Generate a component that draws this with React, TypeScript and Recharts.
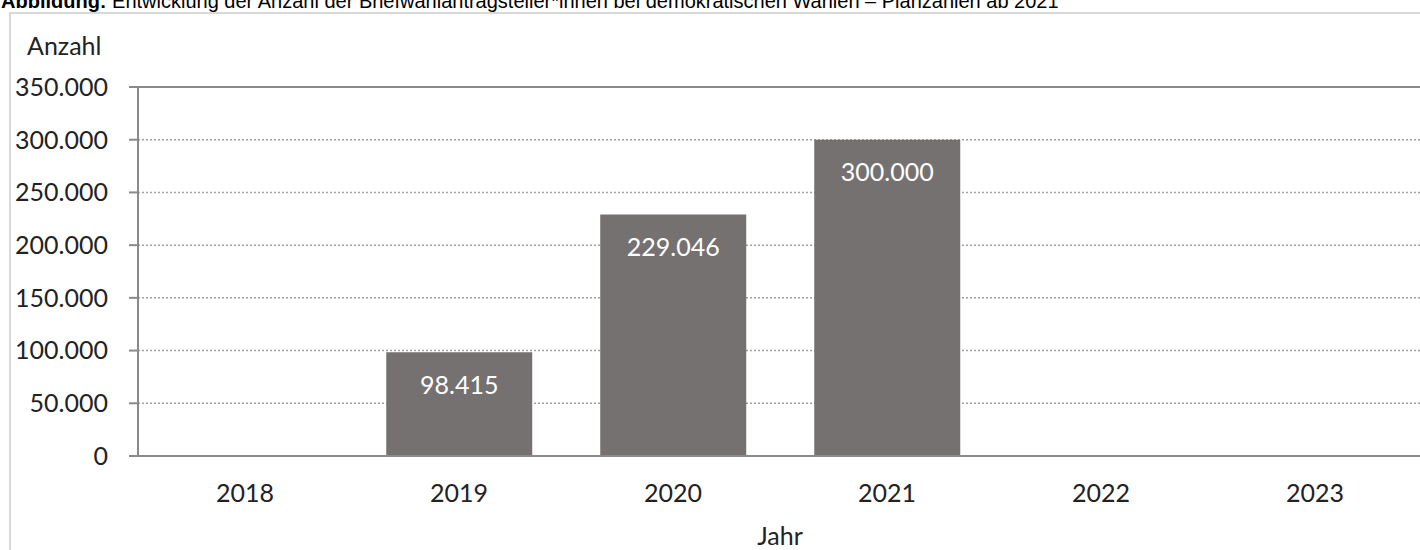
import { BarChart, Bar, XAxis, YAxis, CartesianGrid, ReferenceLine, LabelList } from 'recharts'

const years = ['2018', '2019', '2020', '2021', '2022', '2023']
const antragsteller: (number | null)[] = [null, 98415, 229046, 300000, null, null]
const yTicks = [0, 50000, 100000, 150000, 200000, 250000, 300000, 350000]

const title = 'Entwicklung der Anzahl der Briefwahlantragsteller*innen bei demokratischen Wahlen – Planzahlen ab 2021'

const data = years.map((year, i) => ({ year, value: antragsteller[i] }))

const fmt = (v: any) => (v == null ? '' : String(v).replace(/\B(?=(\d{3})+(?!\d))/g, '.'))

const font = 'Lato, "Open Sans", sans-serif'
const axisColor = '#8a8a8a'

export default function App() {
  return (
    // fixed so the slightly oversized plot never triggers scrollbars
    <div style={{ position: 'fixed', left: 0, top: 0, width: 1420, height: 550, overflow: 'hidden', background: '#fff' }}>
      <BarChart
        width={1422}
        height={550}
        data={data}
        margin={{ top: 87, right: 0, left: 0, bottom: 0 }}
        barCategoryGap="16%"
      >
        <CartesianGrid vertical={false} stroke="#a0a0a0" strokeWidth={1.5} strokeDasharray="2 2" />
        <XAxis
          dataKey="year"
          height={94}
          tickLine={false}
          tickSize={0}
          tickMargin={28}
          axisLine={{ stroke: axisColor, strokeWidth: 2 }}
          tick={{ fill: '#222', fontSize: 25, fontFamily: font }}
        />
        <YAxis
          width={138}
          domain={[0, 350000]}
          ticks={yTicks}
          tickFormatter={fmt}
          tickSize={9}
          tickMargin={21}
          axisLine={{ stroke: axisColor, strokeWidth: 2 }}
          tickLine={{ stroke: axisColor, strokeWidth: 2 }}
          tick={{ fill: '#222', fontSize: 25, fontFamily: font }}
          interval={0}
        />
        <ReferenceLine y={350000} stroke={axisColor} strokeWidth={2} />
        <Bar dataKey="value" fill="#767171" isAnimationActive={false}>
          <LabelList
            dataKey="value"
            position="insideTop"
            offset={24}
            formatter={fmt}
            fill="#ffffff"
            style={{ fontSize: 25, fontFamily: font }}
          />
        </Bar>
      </BarChart>
      <svg width={1420} height={550} style={{ position: 'absolute', left: 0, top: 0, pointerEvents: 'none' }}>
        <line x1={10} y1={13} x2={1420} y2={13} stroke="#d9d9d9" strokeWidth={2} />
        <line x1={10} y1={12} x2={10} y2={550} stroke="#d9d9d9" strokeWidth={2} />
        <text x={1} y={8} fontFamily='"Liberation Sans", Arial, sans-serif' fontSize={20} fill="#000">
          <tspan fontWeight="bold">Abbildung:</tspan> {title}
        </text>
        <text x={27} y={55} fontFamily={font} fontSize={25} fill="#222">Anzahl</text>
        <text x={780} y={545} textAnchor="middle" fontFamily={font} fontSize={25} fill="#222">Jahr</text>
      </svg>
    </div>
  )
}
